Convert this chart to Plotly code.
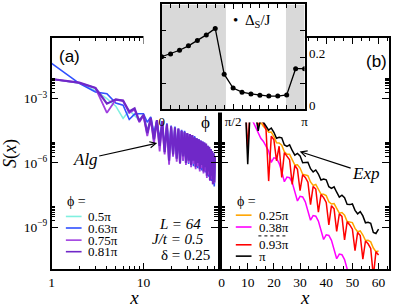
import plotly.graph_objects as go

W, H = 395, 308

# ---------------- data (log10 S(x)) ----------------
phi_a = ["0.5π", "0.63π", "0.75π", "0.81π"]
colors_a = ["#80f0e0", "#3050ff", "#a040e0", "#7028c8"]
x_a = list(range(1, 61))
logS_a_050 = [-2.08, -2.28, -2.62, -3.0, -3.35, -3.92, -3.55, -3.8, -4.0, -3.75,
              -4.5, -3.95, -4.85, -4.05, -5.2, -4.1, -5.4, -4.2, -5.7, -4.3,
              -5.6, -4.35, -5.75, -4.45, -5.9, -4.5, -5.8, -4.55, -6.0, -4.65,
              -5.95, -4.7, -6.05, -4.75, -6.0, -4.8, -6.15, -4.85, -6.1, -4.9,
              -6.25, -5.0, -6.2, -5.05, -6.35, -5.1, -6.3, -5.15, -6.5, -5.25,
              -6.5, -5.3, -6.7, -5.4, -6.7, -5.5, -6.9, -5.6, -7.05, -5.75]
logS_a_063 = [-1.35, -2.28, -2.69, -2.77, -3.2, -3.3, -3.97, -3.72, -3.7, -3.7,
              -4.1, -3.85, -4.6, -4.0, -4.9, -4.05, -5.3, -4.15, -5.5, -4.25,
              -5.7, -4.3, -5.6, -4.4, -5.85, -4.45, -5.9, -4.5, -5.85, -4.6,
              -6.05, -4.65, -5.95, -4.7, -6.15, -4.75, -6.05, -4.85, -6.25, -4.9,
              -6.15, -4.95, -6.35, -5.0, -6.3, -5.05, -6.45, -5.15, -6.45, -5.2,
              -6.65, -5.3, -6.6, -5.35, -6.85, -5.45, -6.85, -5.55, -7.1, -5.7]
logS_a_075 = [-2.08, -2.26, -2.5, -3.66, -3.05, -3.08, -3.66, -3.5, -4.1, -3.8,
              -4.75, -3.95, -5.1, -4.05, -5.46, -4.15, -5.6, -4.25, -6.08, -4.3,
              -5.7, -4.4, -5.95, -4.45, -6.05, -4.5, -5.9, -4.6, -6.1, -4.65,
              -6.0, -4.7, -6.2, -4.75, -6.05, -4.85, -6.3, -4.9, -6.15, -4.95,
              -6.4, -5.0, -6.25, -5.05, -6.5, -5.1, -6.4, -5.2, -6.7, -5.25,
              -6.55, -5.3, -6.85, -5.4, -6.75, -5.5, -7.0, -5.6, -6.95, -5.75]
logS_a_081 = [-2.08, -2.25, -2.5, -3.23, -3.03, -3.1, -3.6, -3.45, -4.05, -3.75,
              -4.6, -3.9, -4.9, -4.0, -5.2, -4.05, -5.5, -4.2, -5.9, -4.3,
              -5.6, -4.35, -5.8, -4.4, -6.0, -4.5, -5.7, -4.55, -6.0, -4.6,
              -5.9, -4.65, -6.1, -4.7, -5.9, -4.8, -6.2, -4.85, -6.0, -4.9,
              -6.3, -4.95, -6.1, -5.0, -6.4, -5.05, -6.2, -5.1, -6.6, -5.2,
              -6.4, -5.25, -6.8, -5.35, -6.6, -5.45, -7.0, -5.55, -6.9, -5.7]
series_a = [logS_a_050, logS_a_063, logS_a_075, logS_a_081]
widths_a = [1.6, 1.6, 1.8, 2.2]

phi_b = ["0.25π", "0.38π", "0.93π", "π"]
colors_b = ["#ffa500", "#ff00ff", "#ff0000", "#000000"]
x_b = list(range(8, 61))
x_b_038 = list(range(8, 50))
logS_b_025 = [-2.8, -3.1, -3.3, -3.45, -3.6, -3.8, -4.25, -4.1, -4.3,
              -4.40, -4.57, -4.56, -4.77, -5.06, -5.07, -5.17, -5.48, -5.60, -5.60,
              -5.87, -6.10, -6.09, -6.24, -6.53, -6.58, -6.60, -6.89, -7.05, -7.01,
              -7.21, -7.46, -7.47, -7.53, -7.82, -7.92, -7.90, -8.14, -8.35, -8.32,
              -8.44, -8.74, -8.78, -8.79, -9.06, -9.22, -9.18, -9.37, -9.63, -9.62,
              -9.69, -9.98, -10.15, -10.12]
logS_b_038 = [-3.0, -3.3, -3.55, -3.8, -4.05, -4.35, -4.6, -4.85, -5.0, -5.2,
              -5.45, -5.98, -5.76, -5.79, -6.02, -6.40, -6.88, -6.66, -6.69, -6.92,
              -7.30, -7.78, -7.56, -7.59, -7.82, -8.20, -8.68, -8.46, -8.49, -8.72,
              -9.10, -9.58, -9.36, -9.39, -9.62, -10.00, -10.48, -10.26, -10.29, -10.52,
              -10.90, -11.40]
logS_b_093 = [-2.7, -3.0, -5.35, -3.3, -3.5, -3.7, -4.3, -3.95, -4.15,
              -4.46, -6.85, -4.75, -4.92, -5.9, -5.22, -6.68, -5.52, -5.66, -5.85,
              -7.0, -6.12, -6.3, -7.3, -6.55, -6.68, -6.9, -7.95, -7.1, -7.22,
              -8.3, -7.48, -7.62, -7.85, -8.9, -8.0, -8.15, -9.2, -8.38, -8.5,
              -9.6, -8.75, -8.9, -9.1, -10.1, -9.25, -9.4, -10.5, -9.65, -9.78,
              -10.0, -11.3, -10.15, -10.3]
logS_b_100 = [-2.6, -3.0, -6.06, -3.3, -3.5, -3.7, -4.5, -3.9, -4.1,
              -4.31, -4.47, -4.37, -4.57, -4.85, -4.80, -4.83, -5.16, -5.23, -5.16,
              -5.42, -5.64, -5.56, -5.67, -5.99, -5.99, -5.97, -6.27, -6.42, -6.33,
              -6.52, -6.80, -6.75, -6.79, -7.11, -7.19, -7.12, -7.37, -7.60, -7.51,
              -7.63, -7.94, -7.95, -7.92, -8.22, -8.38, -8.28, -8.48, -8.80, -8.78,
              -8.82, -9.25, -9.30, -9.10]
series_b = [(x_b, logS_b_025), (x_b_038, logS_b_038), (x_b, logS_b_093), (x_b, logS_b_100)]

# inset: spin gap vs phi (phi in units of pi)
phi_inset = [0.0, 0.0625, 0.125, 0.1875, 0.25, 0.3125, 0.375, 0.4375, 0.5,
             0.5625, 0.625, 0.6875, 0.75, 0.8125, 0.875, 0.9375, 1.0]
delta_s = [0.201, 0.212, 0.226, 0.243, 0.263, 0.285, 0.310, 0.134, 0.081,
           0.065, 0.058, 0.053, 0.050, 0.050, 0.054, 0.155, 0.155]
gapped_bands = [(0.0, 0.45), (0.87, 1.0)]

# ---------------- figure ----------------
def P(px):
    return px / W

def Q(py):
    return 1 - py / H

SERIF = "Liberation Serif"
fig = go.Figure()

for name, col, wd, vals in zip(phi_a, colors_a, widths_a, series_a):
    fig.add_trace(go.Scatter(x=x_a, y=[10 ** v for v in vals], mode="lines", name=name,
                             line=dict(color=col, width=wd), xaxis="x", yaxis="y",
                             showlegend=False))

for name, col, (xs, vals) in zip(phi_b, colors_b, series_b):
    fig.add_trace(go.Scatter(x=xs, y=[10 ** v for v in vals], mode="lines", name=name,
                             line=dict(color=col, width=1.5), xaxis="x2", yaxis="y2",
                             showlegend=False))

# white cover boxes behind the inset (empty subplots whose background masks the panels)
fig.add_trace(go.Scatter(x=[None], y=[None], xaxis="x3", yaxis="y3", showlegend=False, hoverinfo="skip"))
fig.add_trace(go.Scatter(x=[None], y=[None], xaxis="x4", yaxis="y4", showlegend=False, hoverinfo="skip"))

fig.add_trace(go.Scatter(x=phi_inset, y=delta_s, mode="lines+markers", name="Δ_S/J",
                         line=dict(color="black", width=1.3), marker=dict(color="black", size=5),
                         xaxis="x5", yaxis="y5", showlegend=False))

for a, b in gapped_bands:
    fig.add_shape(type="rect", xref="x5", yref="y5", x0=a, x1=b, y0=0, y1=0.402,
                  fillcolor="#d9d9d9", line=dict(width=0), layer="below")

logy_range = [-10.98, -0.14]
ytickvals = [1e-9, 1e-6, 1e-3]
ytext = ["10<sup>−9</sup>", "10<sup>−6</sup>", "10<sup>−3</sup>"]
yminor = [m * 10 ** e for e in (-9, -6, -3) for m in range(2, 10)]
axline = dict(showline=True, linecolor="black", linewidth=1.5, showgrid=False, zeroline=False,
              ticks="inside", tickcolor="black", tickwidth=1.2, mirror="ticks")
tickfont = dict(family=SERIF, size=13.5, color="black")

fig.update_layout(
    width=W, height=H, margin=dict(l=0, r=0, t=0, b=0),
    paper_bgcolor="white", plot_bgcolor="white",
    font=dict(family=SERIF, color="black"),
    xaxis=dict(domain=[P(49.5), P(218.4)], type="log", range=[0, 1.80618], anchor="y",
               tickvals=[1, 10], ticktext=["1", "10"], ticklen=7, tickfont=tickfont,
               minor=dict(tickvals=[2, 3, 4, 5, 6, 7, 8, 9, 20, 30, 40, 50, 60], ticks="inside",
                          ticklen=4, tickcolor="black", tickwidth=1),
               title=dict(text="<i>x</i>", font=dict(size=19, family=SERIF), standoff=4), **axline),
    yaxis=dict(domain=[Q(273), Q(38)], type="log", range=logy_range, anchor="x",
               tickvals=ytickvals, ticktext=ytext, ticklen=7, tickfont=tickfont,
               minor=dict(tickvals=yminor, ticks="inside", ticklen=4, tickcolor="black", tickwidth=1),
               title=dict(text="<i>S</i>(<i>x</i>)", font=dict(size=18, family=SERIF), standoff=2), **axline),
    xaxis2=dict(domain=[P(222.5), P(393)], range=[0, 64], anchor="y2",
                tickvals=[0, 10, 20, 30, 40, 50, 60], ticklen=7, tickfont=tickfont,
                minor=dict(tick0=0, dtick=10 / 3, ticks="inside", ticklen=4, tickcolor="black", tickwidth=1),
                title=dict(text="<i>x</i>", font=dict(size=19, family=SERIF), standoff=4), **axline),
    yaxis2=dict(domain=[Q(273), Q(38)], type="log", range=logy_range, anchor="x2",
                tickvals=ytickvals, showticklabels=False, ticklen=7,
                minor=dict(tickvals=yminor, ticks="inside", ticklen=4, tickcolor="black", tickwidth=1), **axline),
    xaxis3=dict(domain=[P(143), P(307)], visible=False, anchor="y3", range=[0, 1]),
    yaxis3=dict(domain=[Q(114), 1.0], visible=False, anchor="x3", range=[0, 1]),
    xaxis4=dict(domain=[P(224), P(307)], visible=False, anchor="y4", range=[0, 1]),
    yaxis4=dict(domain=[Q(124), 1.0], visible=False, anchor="x4", range=[0, 1]),
    xaxis5=dict(domain=[P(161.5), P(307)], range=[0, 1], anchor="y5",
                tickvals=[0, 0.5, 1], ticktext=["0", "π/2", "π"], ticklen=5,
                tickfont=dict(family=SERIF, size=13, color="black"),
                minor=dict(tick0=0, dtick=0.0625, ticks="inside", ticklen=4, tickcolor="black", tickwidth=1),
                **axline),
    yaxis5=dict(domain=[Q(110.5), Q(4.5)], range=[0, 0.402], anchor="x5", side="right",
                tickvals=[0, 0.2, 0.4], ticktext=["0", "0.2", "0.4"], ticklen=5,
                ticklabelshift=-4,
                tickfont=dict(family=SERIF, size=13, color="black"),
                minor=dict(tickvals=[0.1, 0.3], ticks="inside", ticklen=5, tickcolor="black", tickwidth=1.2),
                **axline),
)

ann = []
def text(px, py, s, size=15, xanchor="center", family=SERIF):
    ann.append(dict(x=P(px), y=Q(py), xref="paper", yref="paper", text=s, showarrow=False,
                    xanchor=xanchor, yanchor="middle", font=dict(family=family, size=size, color="black")))

text(67.5, 57, "(a)", size=17, family="Liberation Sans")
text(380, 62, "(b)", size=17, family="Liberation Sans")
text(157, 227, "<i>L = 64</i>", size=15, xanchor="left")
text(150, 242, "<i>J/t = 0.5</i>", size=15, xanchor="left")
text(159, 258, "δ = 0.25", size=15, xanchor="left")
text(206, 124, "ϕ", size=17)
text(232, 21, "•  Δ<sub>S</sub>/J", size=15, xanchor="left")

# arrows
for hx, hy, lab, axo, ayo in [(157, 145, "<i>Alg</i>", -72, 16), (302, 153.5, "<i>Exp</i>", 66, 21.5)]:
    ann.append(dict(x=P(hx), y=Q(hy), xref="paper", yref="paper", text=lab, showarrow=True,
                    ax=axo, ay=ayo, arrowhead=5, arrowsize=1, arrowwidth=1.2, arrowcolor="black",
                    font=dict(family=SERIF, size=17, color="black")))

# legends (panel a and b)
text(63, 204, "ϕ =", size=14, xanchor="left")
for name, col, yy in zip(phi_a, colors_a, [219.3, 231, 243.3, 255]):
    text(85, yy, name, size=13, xanchor="left")
    fig.add_shape(type="line", xref="paper", yref="paper", x0=P(64), x1=P(80), y0=Q(yy), y1=Q(yy),
                  line=dict(color=col, width=1.6))
text(236, 204, "ϕ =", size=14, xanchor="left")
for name, col, yy in zip(phi_b, colors_b, [218, 230, 248, 259.5]):
    text(259, yy, name, size=13, xanchor="left")
    fig.add_shape(type="line", xref="paper", yref="paper", x0=P(237), x1=P(253), y0=Q(yy), y1=Q(yy),
                  line=dict(color=col, width=1.6))
fig.add_shape(type="line", xref="paper", yref="paper", x0=P(260), x1=P(289), y0=Q(239), y1=Q(239),
              line=dict(color="black", width=1, dash="dot"))

fig.update_layout(annotations=ann)
fig.write_html("out.html", config={"displayModeBar": False},
               post_script="document.body.style.margin='0';")
